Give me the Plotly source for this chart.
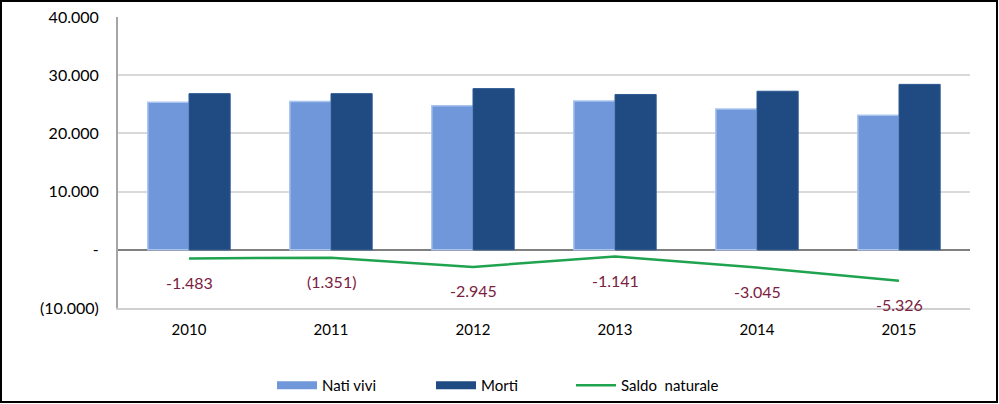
import plotly.graph_objects as go

years = ["2010", "2011", "2012", "2013", "2014", "2015"]
nati_vivi = [25350, 25480, 24750, 25550, 24200, 23100]
morti = [26833, 26831, 27695, 26691, 27245, 28426]
saldo = [-1483, -1351, -2945, -1141, -3045, -5326]
saldo_labels = ["-1.483", "(1.351)", "-2.945", "-1.141", "-3.045", "-5.326"]
y_tickvals = [40000, 30000, 20000, 10000, 0, -10000]
y_ticktext = ["40.000", "30.000", "20.000", "10.000", "-", "(10.000)"]

FONT = "Lato, 'Open Sans', sans-serif"
C_NATI = "#6f97da"
C_MORTI = "#1f4a82"
C_SALDO = "#1fa34f"

fig = go.Figure()
fig.add_trace(go.Bar(
    x=years, y=nati_vivi, name="Nati vivi", showlegend=False,
    marker=dict(color=C_NATI, line=dict(color="#a9c4ee", width=1.5)),
))
fig.add_trace(go.Bar(
    x=years, y=morti, name="Morti", showlegend=False,
    marker=dict(color=C_MORTI, line=dict(color="#2d5a94", width=1)),
))
fig.add_trace(go.Scatter(
    x=years, y=saldo, name="Saldo  naturale", mode="lines", showlegend=False,
    line=dict(color=C_SALDO, width=2.5),
))

H = 291.0
W = 852.0
# legend entries, each in its own legend box
leg_x = [272, 431, 571]
for k, (nm, col, w) in enumerate([("Nati vivi", C_NATI, 8), ("Morti", C_MORTI, 8),
                                   ("Saldo  naturale", C_SALDO, 2.5)]):
    lg = "legend" if k == 0 else f"legend{k+1}"
    fig.add_trace(go.Scatter(x=[None], y=[None], mode="lines", name=nm, legend=lg,
                             line=dict(color=col, width=w)))
    fig.update_layout({lg: dict(orientation="h", x=(leg_x[k]-118)/W, xanchor="left",
                                y=-(370-309)/H, yanchor="top", font=dict(size=15),
                                itemwidth=40, bgcolor="rgba(0,0,0,0)")})

for i, (v, t) in enumerate(zip(saldo, saldo_labels)):
    fig.add_annotation(x=i, y=v, text=t, showarrow=False, yshift=-24,
                       font=dict(color="#7b2140", size=16, family=FONT))

fig.add_shape(type="rect", xref="paper", yref="paper",
              x0=-117/W, x1=(997-118)/W, y0=-(402-308)/H, y1=1+16/H,
              line=dict(color="black", width=2), fillcolor="rgba(0,0,0,0)", layer="above")

fig.update_layout(
    width=999, height=404,
    margin=dict(l=118, r=29, t=17, b=96, autoexpand=False),
    paper_bgcolor="white", plot_bgcolor="white",
    barmode="group", bargap=0.42, bargroupgap=0,
    font=dict(family=FONT, size=14, color="black"),
    xaxis=dict(type="category", range=[-0.5, len(years) - 0.5],
               showgrid=False, showline=True, linecolor="#d0d0d0", linewidth=2,
               ticks="", ticklabelstandoff=7, tickfont=dict(size=15)),
    yaxis=dict(range=[-10000, 40000], tickvals=y_tickvals, ticktext=y_ticktext,
               showgrid=True, gridcolor="#d9d9d9", gridwidth=2,
               showline=True, linecolor="#a6a6a6", linewidth=2,
               zeroline=True, zerolinecolor="#808080", zerolinewidth=2,
               ticks="", ticklabelstandoff=14, tickfont=dict(size=16)),
)

fig.write_html("out.html")
